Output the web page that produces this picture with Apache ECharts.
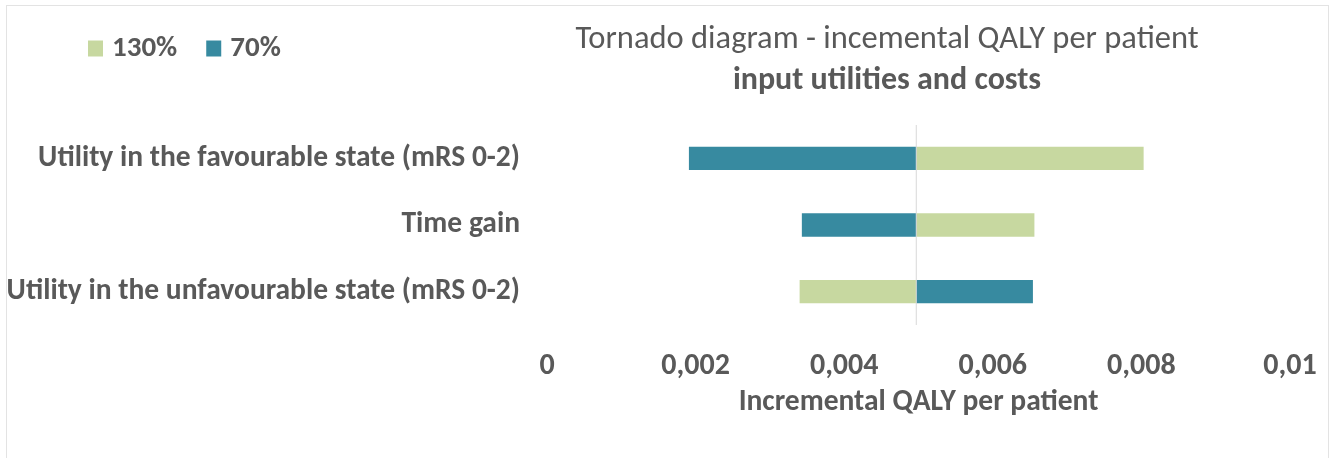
<!DOCTYPE html>
<html>
<head>
<meta charset="utf-8">
<script src="https://cdn.jsdelivr.net/npm/echarts@6/dist/echarts.min.js"></script>
<style>
  html, body { margin: 0; padding: 0; background: #fff; }
  #frame { position: absolute; left: 6px; top: 5px; width: 1321px; height: 470px; border: 1px solid #e3e3e3; }
  #main { position: absolute; left: 0; top: 0; width: 1333px; height: 458px; }
</style>
</head>
<body>
<div id="frame"></div>
<div id="main"></div>
<script>
// data
var categories = [
    'Utility in the favourable state (mRS 0-2)',
    'Time gain',
    'Utility in the unfavourable state (mRS 0-2)'
];
var baseValue = 0.00497;
var high130 = [0.00803, 0.00656, 0.00340];
var low70 = [0.00191, 0.00343, 0.00654];
var tickLabels = ['0', '0,002', '0,004', '0,006', '0,008', '0,01'];

var FONT = 'Carlito, Lato, sans-serif';
var TEXT = '#595959';

function renderBar(params, api) {
    var cat = api.value(0);
    var start = api.coord([baseValue, cat]);
    var end = api.coord([api.value(1), cat]);
    var h = api.size([0, 1])[1] * 0.35;
    return {
        type: 'rect',
        shape: {
            x: Math.min(start[0], end[0]),
            y: start[1] - h / 2,
            width: Math.abs(end[0] - start[0]),
            height: h
        },
        style: api.style()
    };
}

// vertical axis crossing at the base value
function renderBase(params, api) {
    var cs = params.coordSys;
    var x = api.coord([api.value(0), 0])[0];
    return {
        type: 'line',
        shape: {x1: x, y1: cs.y, x2: x, y2: cs.y + cs.height},
        style: {stroke: '#d9d9d9', lineWidth: 1}
    };
}

function toData(values) {
    return values.map(function (v, i) { return [i, v]; });
}

var myChart = echarts.init(document.getElementById('main'));
myChart.setOption({
    animation: false,
    textStyle: {fontFamily: FONT},
    title: [{
        text: 'Tornado diagram - incemental QALY per patient',
        left: 882,
        top: 18,
        textAlign: 'center',
        textStyle: {fontFamily: FONT, fontSize: 32.5, fontWeight: 'normal', color: TEXT}
    }, {
        text: 'input utilities and costs',
        left: 882,
        top: 60,
        textAlign: 'center',
        textStyle: {fontFamily: FONT, fontSize: 32, fontWeight: 'bold', color: TEXT}
    }],
    legend: {
        left: 83,
        top: 29,
        itemWidth: 15,
        itemHeight: 16,
        itemGap: 29,
        icon: 'rect',
        data: ['130%', '70%'],
        textStyle: {fontFamily: FONT, fontSize: 29, fontWeight: 'bold', color: TEXT, padding: [0, 0, 0, 4]}
    },
    grid: {
        left: 547,
        right: 43,
        top: 125,
        bottom: 133,
        containLabel: false
    },
    xAxis: {
        type: 'value',
        min: 0,
        max: 0.01,
        interval: 0.002,
        name: 'Incremental QALY per patient',
        nameLocation: 'middle',
        nameGap: 63,
        nameTextStyle: {fontFamily: FONT, fontSize: 29.5, fontWeight: 'bold', color: TEXT},
        axisLine: {show: false},
        axisTick: {show: false},
        splitLine: {show: false},
        axisLabel: {
            margin: 26,
            fontFamily: FONT,
            fontSize: 30,
            fontWeight: 'bold',
            color: TEXT,
            formatter: function (v) {
                return tickLabels[Math.round(v / 0.002)];
            }
        }
    },
    yAxis: {
        type: 'category',
        inverse: true,
        data: categories,
        axisLine: {show: false},
        axisTick: {show: false},
        splitLine: {show: false},
        axisLabel: {
            margin: 27,
            fontFamily: FONT,
            fontSize: 29.5,
            fontWeight: 'bold',
            color: TEXT
        }
    },
    series: [
        {
            name: 'base',
            type: 'custom',
            renderItem: renderBase,
            encode: {x: 0},
            data: [[baseValue]],
            silent: true,
            z: 4
        },
        {
            name: '130%',
            type: 'custom',
            renderItem: renderBar,
            encode: {x: 1, y: 0},
            itemStyle: {color: '#c7d8a0'},
            data: toData(high130),
            z: 3
        },
        {
            name: '70%',
            type: 'custom',
            renderItem: renderBar,
            encode: {x: 1, y: 0},
            itemStyle: {color: '#378aa0'},
            data: toData(low70),
            z: 3
        }
    ]
});
</script>
</body>
</html>
